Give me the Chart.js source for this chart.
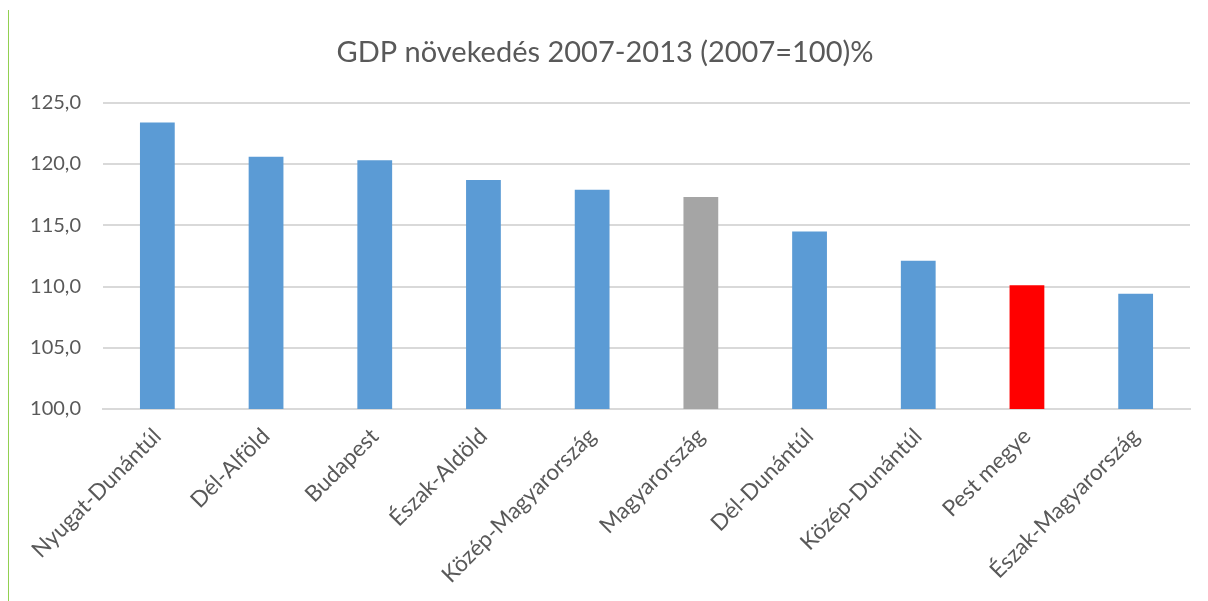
<!DOCTYPE html>
<html>
<head>
<meta charset="utf-8">
<script src="https://cdn.jsdelivr.net/npm/chart.js@4.4.1/dist/chart.umd.min.js"></script>
<style>
  html, body { margin: 0; padding: 0; background: #fff; }
  #wrap { position: relative; width: 1208px; height: 601px; }
  #gline { position: absolute; left: 8px; top: 10px; width: 1px; bottom: 0; background: #92d050; }
  canvas { position: absolute; left: 0; top: 0; }
</style>
</head>
<body>
<div id="wrap">
  <canvas id="c" width="1208" height="601"></canvas>
  <div id="gline"></div>
</div>
<script>
const categories = ["Nyugat-Dunántúl", "Dél-Alföld", "Budapest", "Észak-Aldöld", "Közép-Magyarország", "Magyarország", "Dél-Dunántúl", "Közép-Dunántúl", "Pest megye", "Észak-Magyarország"];
const values = [123.4, 120.6, 120.3, 118.7, 117.9, 117.3, 114.5, 112.1, 110.1, 109.4];
const barColors = ["#5b9bd5", "#5b9bd5", "#5b9bd5", "#5b9bd5", "#5b9bd5", "#a5a5a5", "#5b9bd5", "#5b9bd5", "#ff0000", "#5b9bd5"];
const titleText = "GDP növekedés 2007-2013 (2007=100)%";
const yMin = 100, yMax = 125, yStep = 5;

const FONT = "Lato, 'Noto Sans', sans-serif";
new Chart(document.getElementById('c'), {
  type: 'bar',
  data: {
    labels: categories,
    datasets: [{
      data: values,
      backgroundColor: barColors,
      borderWidth: 0,
      categoryPercentage: 1.0,
      barPercentage: 0.32
    }]
  },
  options: {
    responsive: false,
    animation: false,
    devicePixelRatio: 1,
    layout: { padding: { left: 20, right: 18, top: 0, bottom: 6 } },
    plugins: {
      legend: { display: false },
      tooltip: { enabled: false },
      title: {
        display: true,
        text: titleText,
        color: '#595959',
        font: { family: FONT, size: 29, weight: 'normal' },
        padding: { top: 35, bottom: 33 }
      }
    },
    scales: {
      x: {
        grid: { display: false, drawTicks: false },
        border: { display: true, color: '#d9d9d9', width: 2 },
        ticks: {
          color: '#595959',
          font: { family: FONT, size: 22.5 },
          maxRotation: 45, minRotation: 45,
          autoSkip: false,
          padding: 14
        },
        afterFit(scale) { scale.height = 186; }
      },
      y: {
        min: yMin, max: yMax,
        grid: { color: '#d9d9d9', lineWidth: 2, drawTicks: false },
        border: { display: false },
        ticks: {
          stepSize: yStep,
          color: '#595959',
          font: { family: FONT, size: 20 },
          padding: 22,
          callback: v => v.toFixed(1).replace('.', ',')
        },
        afterFit(scale) { scale.width = 83; }
      }
    }
  }
});
</script>
</body>
</html>
